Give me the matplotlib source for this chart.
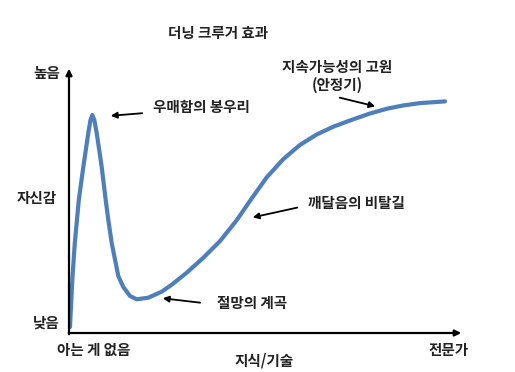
import matplotlib
matplotlib.use("Agg")
import matplotlib.pyplot as plt

plt.rcParams['font.family'] = ['Noto Sans CJK KR', 'DejaVu Sans']

# knowledge / confidence (arbitrary units, origin at axes corner)
knowledge = [1, 1.8, 3.5, 5.8, 9.8, 14.3, 19.3, 21.5, 23.3, 25.3, 27.7, 32.7, 36.7, 39.3,
             42.7, 49.3, 54.3, 61, 67.7, 79.3, 92.7, 103, 117.7, 134.3, 151, 167.7,
             182.5, 197.7, 214.3, 231, 247.7, 264.3, 284, 301, 318, 334, 351, 376]
confidence = [6, 23, 56, 90, 133, 166, 200, 213, 218, 213, 200, 166, 133, 113,
              90, 57, 46, 37, 33.7, 35.3, 41.3, 48.5, 60.3, 75.2, 91.9, 112.8,
              134.3, 155.6, 173.9, 188.1, 198.5, 206.3, 213.6, 219.5, 224.3, 227.5, 229.9, 231.6]

title = "더닝 크루거 효과"
x_label = "지식/기술"
x_ends = ["아는 게 없음", "전문가"]
y_label = "자신감"
y_ends = ["낮음", "높음"]

# (text, text position, arrow tail, arrow tip)
notes = [
    ("우매함의 봉우리", (84, 226), (76, 220), (39, 217)),
    ("절망의 계곡", (148, 30), (134, 30), (91, 35)),
    ("깨달음의 비탈길", (239, 130), (231, 126), (181, 115)),
    ("지속가능성의 고원\n(안정기)", (268, 257), (268, 236), (309, 226)),
]

fig = plt.figure(figsize=(5.15, 3.72), dpi=100)
ax = fig.add_axes([0, 0, 1, 1])
ax.set_xlim(-69, 446)
ax.set_ylim(-39, 333)
ax.axis("off")

txt = dict(color="#222222", fontsize=10.5, fontweight="bold")

# axes with arrows
ax.annotate("", xy=(0, 267), xytext=(0, -4),
            arrowprops=dict(arrowstyle="-|>", color="black", lw=1.6, mutation_scale=9))
ax.annotate("", xy=(395, 0), xytext=(-3, 0),
            arrowprops=dict(arrowstyle="-|>", color="black", lw=1.6, mutation_scale=9))

ax.plot(knowledge, confidence, color="#4F7FBA", lw=3, solid_joinstyle="round",
        solid_capstyle="round")

ax.text(149, 300, title, ha="center", va="center", **txt)
ax.text(-9, 260, y_ends[1], ha="right", va="center", **txt)
ax.text(-12, 135, y_label, ha="right", va="center", **txt)
ax.text(-9, 10, y_ends[0], ha="right", va="center", **txt)
ax.text(25, -17, x_ends[0], ha="center", va="center", **txt)
ax.text(195, -27, x_label, ha="center", va="center", **txt)
ax.text(380, -17, x_ends[1], ha="center", va="center", **txt)

for label, pos, tail, tip in notes:
    ha = "center" if "\n" in label else "left"
    ax.text(pos[0], pos[1], label, ha=ha, va="center", linespacing=1.1, **txt)
    ax.annotate("", xy=tip, xytext=tail,
                arrowprops=dict(arrowstyle="-|>", color="black", lw=1.3, mutation_scale=9))

fig.savefig("out.png", dpi=100)
